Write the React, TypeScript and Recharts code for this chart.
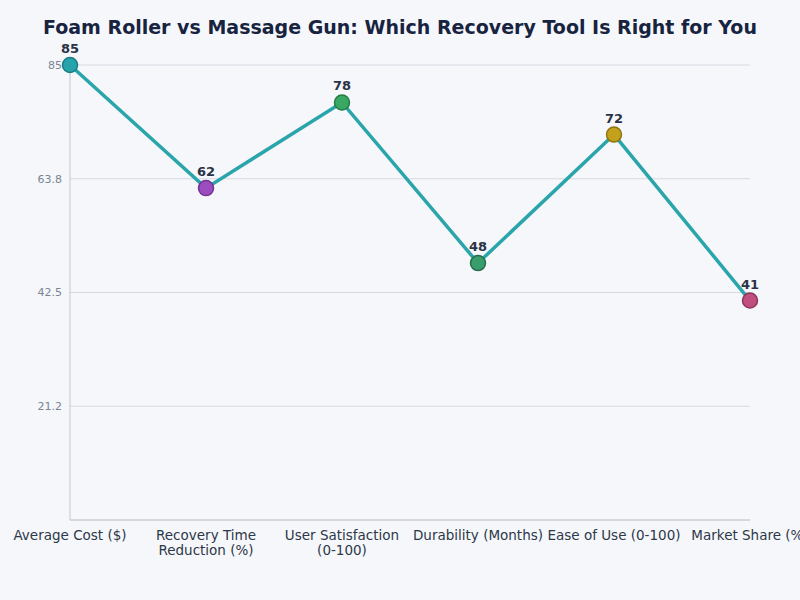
import { LineChart, Line, XAxis, YAxis, CartesianGrid, LabelList } from 'recharts'

const categories = [
  'Average Cost ($)',
  'Recovery Time Reduction (%)',
  'User Satisfaction (0-100)',
  'Durability (Months)',
  'Ease of Use (0-100)',
  'Market Share (%)',
]
const values = [85, 62, 78, 48, 72, 41]
const dotColors = ['#26a3ab', '#9b4dbf', '#38a862', '#3a9d6c', '#c4a11b', '#c04f80']
const dotStrokes = ['#1b7d84', '#73358f', '#267c47', '#276f4c', '#8f7512', '#8d365c']
const yTicks = [21.25, 42.5, 63.75, 85]
const yTickLabels = ['21.2', '42.5', '63.8', '85']

const data = categories.map((name, i) => ({ name, value: values[i], color: dotColors[i], stroke: dotStrokes[i] }))

const FONT = 'DejaVu Sans, sans-serif'

const XTick = ({ x, y, payload }: any) => {
  const label: string = payload.value
  let lines = [label]
  if (label === 'Recovery Time Reduction (%)') lines = ['Recovery Time', 'Reduction (%)']
  if (label === 'User Satisfaction (0-100)') lines = ['User Satisfaction', '(0-100)']
  return (
    <text x={x} y={y} textAnchor="middle" fill="#2d3748" fontSize={13.5} fontFamily={FONT}>
      {lines.map((l, i) => (
        <tspan key={i} x={x} dy={i === 0 ? 14 : 15}>
          {l}
        </tspan>
      ))}
    </text>
  )
}

const Dot = ({ cx, cy, payload }: any) => (
  <circle cx={cx} cy={cy} r={7.5} fill={payload.color} stroke={payload.stroke} strokeWidth={1.5} />
)

export default function App() {
  return (
    <div style={{ position: 'absolute', left: 0, top: 0, width: 800, height: 600, background: '#f5f7fb', fontFamily: FONT }}>
      <div
        style={{
          position: 'absolute',
          top: 16,
          width: 800,
          textAlign: 'center',
          fontSize: 19,
          fontWeight: 'bold',
          color: '#17233f',
        }}
      >
        Foam Roller vs Massage Gun: Which Recovery Tool Is Right for You
      </div>
      <LineChart width={800} height={600} data={data} margin={{ top: 65, right: 50, bottom: 50, left: 10 }}>
        <CartesianGrid vertical={false} stroke="#d5d9e0" />
        <XAxis
          dataKey="name"
          scale="point"
          height={30}
          padding={{ left: 0, right: 0 }}
          interval={0}
          tick={<XTick />}
          tickLine={false}
          tickMargin={0}
          axisLine={{ stroke: '#c3c8d0' }}
        />
        <YAxis
          domain={[0, 85]}
          ticks={yTicks}
          width={60}
          tickFormatter={(v: number) => yTickLabels[yTicks.indexOf(v)] ?? String(v)}
          tick={{ fill: '#7a8494', fontSize: 11, fontFamily: FONT }}
          tickLine={false}
          axisLine={{ stroke: '#c3c8d0' }}
        />
        <Line
          type="linear"
          dataKey="value"
          stroke="#2aa5ab"
          strokeWidth={3.5}
          dot={<Dot />}
          activeDot={false}
          isAnimationActive={false}
        >
          <LabelList
            dataKey="value"
            position="top"
            offset={12}
            fill="#2a3346"
            fontSize={13}
            fontWeight="bold"
            fontFamily={FONT}
          />
        </Line>
      </LineChart>
    </div>
  )
}
